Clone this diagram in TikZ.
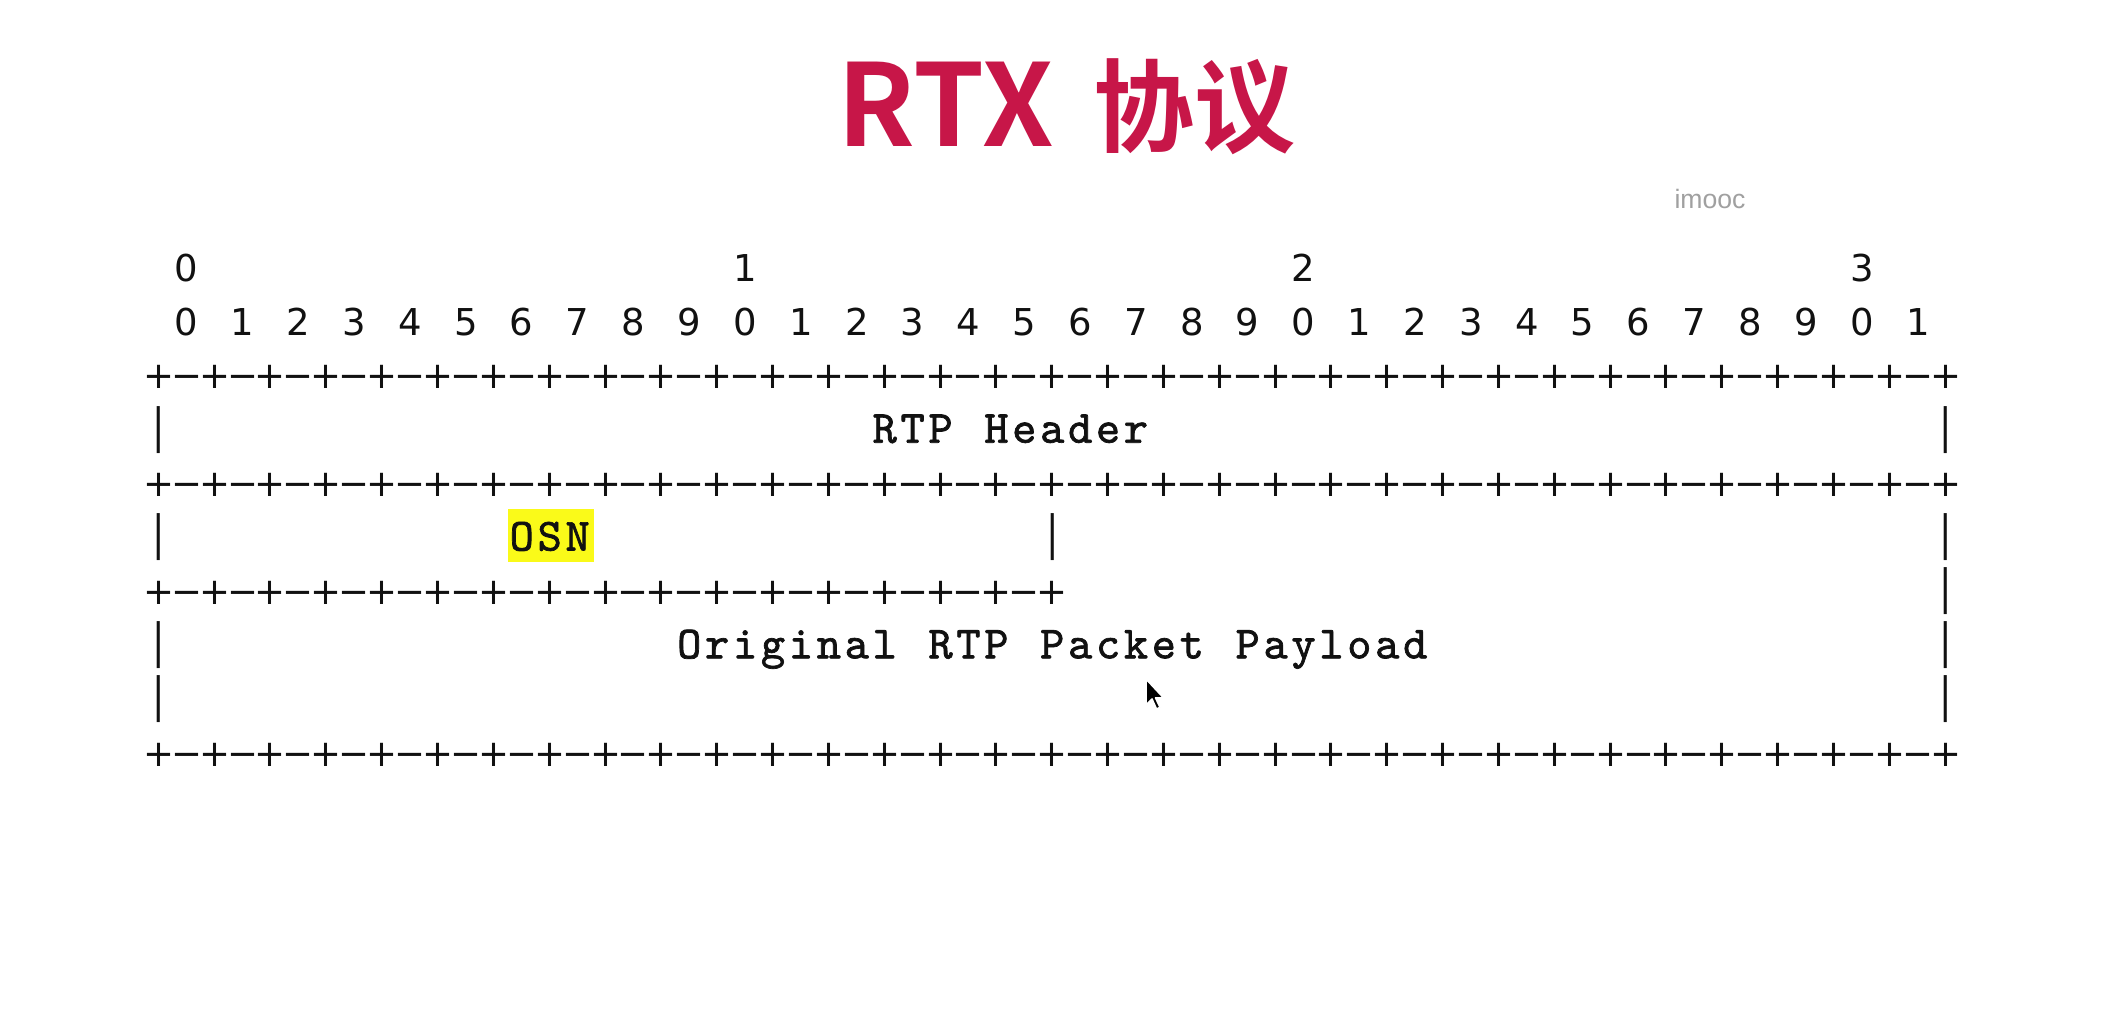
\documentclass[tikz,border=0pt]{standalone}
\usepackage{fontspec}
\newfontfamily\titlefont{Noto Sans CJK SC Bold}
\newfontfamily\wmfont{Liberation Sans}
\newfontfamily\artfont{DejaVu Sans}
\newfontfamily\labfont[FakeBold=1.5]{lmmono10-regular.otf}
\definecolor{titlered}{RGB}{199,22,72}
\definecolor{wmgray}{RGB}{160,160,160}
\definecolor{hlyellow}{RGB}{250,250,25}
\definecolor{ink}{RGB}{17,17,17}

% place one word of the packet diagram, one character per grid cell
\newcommand\putword[4]{%
  \foreach \ch [count=\k from 0] in {#4} {
    \node[lab] (#1-\k) at ({cx(#2+\k)},{ry(#3)+13}) {\ch};
  }}

\tikzset{
  declare function={cx(\c)=158.8+27.92*\c; ry(\r)=268+53.9*\r;},
  title/.style={font=\titlefont\fontsize{57}{60}\selectfont, text=titlered, inner sep=0pt},
  wm/.style={font=\wmfont\fontsize{13.3}{15}\selectfont, text=wmgray, anchor=base, inner sep=0pt},
  % digits, plus and minus signs sit on a common baseline below the row line
  art/.style={font=\artfont\fontsize{18.5}{20}\selectfont, text=ink, anchor=base, inner sep=0pt},
  bar/.style={font=\artfont\fontsize{18.5}{20}\selectfont, text=ink, anchor=center, inner sep=0pt, yscale=1.27},
  lab/.style={font=\labfont\fontsize{23}{26}\selectfont, text=ink, anchor=base, inner sep=0pt},
}

\begin{document}
\begin{tikzpicture}[x=0.5pt,y=-0.5pt]
  \useasboundingbox (0,0) rectangle (2110,1010);
  \fill[white] (0,0) rectangle (2110,1010);

  % heading and watermark
  \node[title, anchor=base east] (titleA) at (1054,147) {RTX};
  \node[title, anchor=base west, font=\titlefont\fontsize{50.5}{54}\selectfont]
    (titleB) at (1093,145) {协议};
  \node[wm] (wm) at (1710,209) {imooc};

  % bit numbering
  \foreach \i in {0,...,3}
    \node[art] (tens-\i) at ({cx(20*\i+1)},{ry(0)+13.5}) {\i};
  \foreach \i in {0,...,31} {
    \pgfmathtruncatemacro\d{mod(\i,10)}
    \node[art] (bit-\i) at ({cx(2*\i+1)},{ry(1)+13.5}) {\d};
  }

  % full-width separator rows
  \foreach \r in {2,4,9} {
    \foreach \i in {0,...,32}
      \node[art] (plus-\r-\i) at ({cx(2*\i)},{ry(\r)+13}) {+};
    \foreach \i in {0,...,31}
      \node[art] (dash-\r-\i) at ({cx(2*\i+1)},{ry(\r)+13}) {\symbol{"2212}};
  }
  % half-width separator under the OSN field
  \foreach \i in {0,...,16}
    \node[art] (plus-6-\i) at ({cx(2*\i)},{ry(6)+13}) {+};
  \foreach \i in {0,...,15}
    \node[art] (dash-6-\i) at ({cx(2*\i+1)},{ry(6)+13}) {\symbol{"2212}};

  % vertical borders
  \foreach \r in {3,5,6,7,8}
    \node[bar] (rbar-\r) at ({cx(64)},{ry(\r)}) {|};
  \foreach \r in {3,5,7,8}
    \node[bar] (lbar-\r) at ({cx(0)},{ry(\r)}) {|};
  \node[bar] (mbar-5) at ({cx(32)},{ry(5)}) {|};

  % field labels
  \putword{hdrA}{26}{3}{R,T,P}
  \putword{hdrB}{30}{3}{H,e,a,d,e,r}

  \fill[hlyellow] (508,509) rectangle (594,562);
  \putword{osn}{13}{5}{O,S,N}

  \putword{plA}{19}{7}{O,r,i,g,i,n,a,l}
  \putword{plB}{28}{7}{R,T,P}
  \putword{plC}{32}{7}{P,a,c,k,e,t}
  \putword{plD}{39}{7}{P,a,y,l,o,a,d}

  % mouse pointer
  \filldraw[fill=black, draw=white, line width=0.8pt, line join=round]
    (1146,679) -- ++(0,26) -- ++(6,-6) -- ++(4.5,10) -- ++(3.5,-1.7)
    -- ++(-4.5,-9.5) -- ++(8,0) -- cycle;
\end{tikzpicture}
\end{document}
